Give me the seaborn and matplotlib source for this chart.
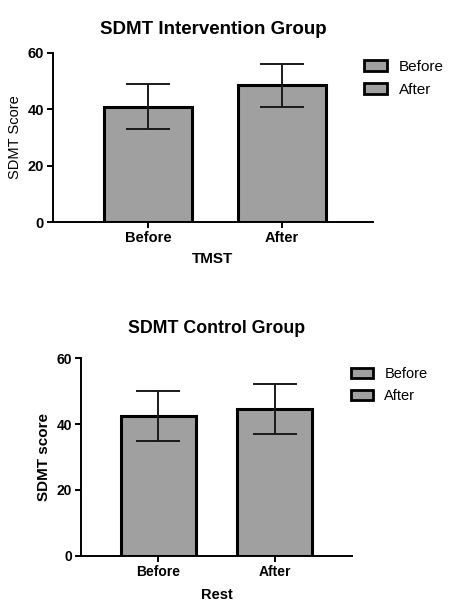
import matplotlib
matplotlib.use("Agg")
import matplotlib.pyplot as plt
import seaborn as sns
import pandas as pd
from matplotlib.patches import Patch

sns.set_theme(style="white")
plt.rcParams['font.family'] = ['Liberation Sans', 'DejaVu Sans']
for k in ["text.color", "axes.labelcolor", "xtick.color", "ytick.color"]:
    plt.rcParams[k] = "black"

# Data
categories = ["Before", "After"]
interv_mean = [41.0, 48.5]
interv_sd = [8.0, 7.6]
control_mean = [42.5, 44.6]
control_sd = [7.6, 7.7]
yticks = [0, 20, 40, 60]

bar_color = "#a0a0a0"

fig = plt.figure(figsize=(4.49, 6.01), dpi=100)

def panel(ax, means, sds, title, xlabel, ylabel, xlim, fs_tick, fs_title, fs_lab, ylab_bold,
          title_pad, leg_anchor, fs_leg, xlabpad, fs_ylab):
    df = pd.DataFrame({"cat": categories, "val": means})
    sns.barplot(data=df, x="cat", y="val", order=categories, color=bar_color,
                width=0.65, edgecolor="black", linewidth=2.2, errorbar=None, ax=ax,
                saturation=1)
    ax.errorbar(range(len(categories)), means, yerr=sds, fmt="none", ecolor="#1a1a1a",
                elinewidth=1.4, capsize=16, capthick=1.4, zorder=5)
    ax.set_ylim(0, 60)
    ax.set_xlim(*xlim)
    ax.set_yticks(yticks)
    ax.set_yticklabels([str(t) for t in yticks], fontweight="bold", fontsize=fs_tick)
    ax.set_xticks(range(len(categories)))
    ax.set_xticklabels(categories, fontweight="bold", fontsize=fs_tick)
    ax.set_title(title, fontweight="bold", fontsize=fs_title, pad=title_pad)
    ax.set_xlabel(xlabel, fontweight="bold", fontsize=fs_lab, labelpad=xlabpad)
    ax.set_ylabel(ylabel, fontweight="bold" if ylab_bold else "medium", fontsize=fs_ylab, labelpad=4)
    for s in ["top", "right"]:
        ax.spines[s].set_visible(False)
    for s in ["left", "bottom"]:
        ax.spines[s].set_linewidth(1.4)
        ax.spines[s].set_color("black")
    ax.tick_params(axis="both", direction="out", length=4, width=1.4, color="black", pad=2.5,
                   left=True, bottom=True)
    handles = [Patch(facecolor=bar_color, edgecolor="black", linewidth=2.0, label=c) for c in categories]
    ax.legend(handles=handles, loc="upper left", bbox_to_anchor=leg_anchor, bbox_transform=fig.transFigure,
              frameon=False, fontsize=fs_leg, handlelength=1.5, handleheight=0.7, handletextpad=0.8,
              labelspacing=0.55, borderaxespad=0)

ax1 = fig.add_axes([53/449, 379/601, 320/449, 169/601])
panel(ax1, interv_mean, interv_sd, "SDMT Intervention Group", "TMST", "SDMT Score",
      (-0.709, 1.679), 10.5, 13.5, 11, False, 14, (358/449, 1 - 54/601), 11, 5, 10.5)

ax2 = fig.add_axes([81/449, 45.3/601, 271/449, 197.4/601])
panel(ax2, control_mean, control_sd, "SDMT Control Group", "Rest", "SDMT score",
      (-0.668, 1.668), 10, 12.8, 10.5, True, 18, (345/449, 1 - 361/601), 10.5, 7, 11)

fig.savefig("out.png", dpi=100)
